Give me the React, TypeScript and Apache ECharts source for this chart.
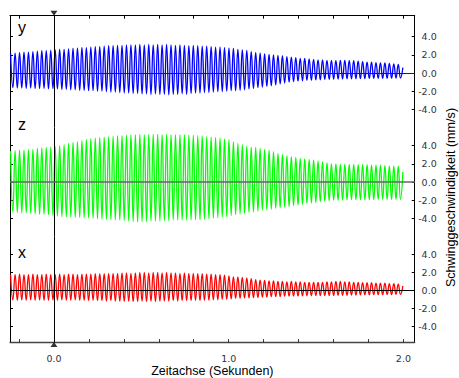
import React, { useEffect, useRef } from "react";
import * as echarts from "echarts";

// time base of the recording (seconds)
const sampleStart = -0.248;
const cyclePeriod = 0.0255;
const endTime = 1.997;

const timeTicks = [-0.2, 0, 0.2, 0.4, 0.6, 0.8, 1.0, 1.2, 1.4, 1.6, 1.8, 2.0];
const timeLabels = [0, 1, 2];
const speedTicks = [-4, -2, 0, 2, 4];
const panelNames = ["y", "z", "x"];
const cursorTime = 0;

// per-cycle peak / trough values (mm/s)
const yPeaks = [
  2.15, 2.2, 2.25, 2.3, 2.3, 2.35, 2.4, 2.45, 2.45, 2.5,
  2.55, 2.6, 2.6, 2.65, 2.7, 2.75, 2.8, 2.8, 2.85, 2.9,
  2.9, 2.95, 3.0, 3.0, 3.05, 3.05, 3.1, 3.1, 3.1, 3.15,
  3.1, 3.15, 3.1, 3.15, 3.1, 3.15, 3.1, 3.05, 3.1, 3.05,
  3.0, 3.05, 3.0, 2.95, 2.95, 2.9, 2.85, 2.85, 2.8, 2.75,
  2.7, 2.6, 2.55, 2.5, 2.35, 2.25, 2.2, 2.1, 2.05, 2.0,
  1.95, 1.9, 1.8, 1.75, 1.7, 1.6, 1.6, 1.55, 1.5, 1.45,
  1.45, 1.4, 1.4, 1.35, 1.4, 1.4, 1.35, 1.35, 1.3, 1.25,
  1.2, 1.2, 1.15, 1.1, 1.1, 1.05, 1.0, 0.95,
];
const yTroughs = [
  -1.6, -1.65, -1.65, -1.7, -1.65, -1.7, -1.7, -1.7, -1.75, -1.7,
  -1.75, -1.8, -1.8, -1.85, -1.85, -1.9, -1.9, -1.95, -1.95, -2.0,
  -2.0, -2.05, -2.1, -2.1, -2.15, -2.2, -2.2, -2.25, -2.25, -2.3,
  -2.3, -2.35, -2.3, -2.35, -2.35, -2.4, -2.35, -2.35, -2.3, -2.35,
  -2.25, -2.2, -2.2, -2.15, -2.15, -2.1, -2.05, -2.05, -2.0, -1.95,
  -1.95, -1.9, -1.85, -1.75, -1.7, -1.6, -1.55, -1.45, -1.4, -1.3,
  -1.2, -1.1, -1.0, -0.95, -0.9, -0.85, -0.8, -0.8, -0.75, -0.75,
  -0.7, -0.7, -0.68, -0.66, -0.66, -0.65, -0.65, -0.64, -0.62, -0.62,
  -0.6, -0.6, -0.6, -0.58, -0.58, -0.57, -0.56, -0.55,
];
const zPeaks = [
  3.4, 3.45, 3.5, 3.5, 3.55, 3.6, 3.7, 3.75, 3.8, 3.85,
  3.9, 4.0, 4.1, 4.25, 4.35, 4.45, 4.55, 4.7, 4.8, 4.85,
  4.9, 4.95, 5.0, 5.05, 5.1, 5.1, 5.15, 5.2, 5.2, 5.25,
  5.2, 5.25, 5.25, 5.25, 5.2, 5.25, 5.2, 5.2, 5.2, 5.2,
  5.15, 5.15, 5.1, 5.1, 5.0, 4.95, 4.9, 4.85, 4.75, 4.65,
  4.45, 4.25, 4.1, 3.95, 3.85, 3.8, 3.7, 3.6, 3.5, 3.35,
  3.15, 3.05, 2.9, 2.8, 2.7, 2.6, 2.55, 2.45, 2.4, 2.3,
  2.2, 2.1, 2.0, 2.0, 1.95, 1.95, 1.95, 1.95, 1.9, 1.9,
  1.9, 1.85, 1.85, 1.85, 1.8, 1.75, 1.75, 1.75,
];
const zTroughs = [
  -3.3, -3.35, -3.4, -3.4, -3.45, -3.5, -3.55, -3.55, -3.6, -3.7,
  -3.75, -3.8, -3.85, -3.85, -3.9, -3.9, -3.95, -3.95, -4.0, -4.05,
  -4.1, -4.1, -4.15, -4.2, -4.2, -4.25, -4.3, -4.35, -4.4, -4.35,
  -4.35, -4.3, -4.3, -4.3, -4.25, -4.25, -4.2, -4.2, -4.2, -4.2,
  -4.2, -4.15, -4.15, -4.1, -4.05, -4.0, -3.95, -3.85, -3.8, -3.7,
  -3.6, -3.5, -3.45, -3.35, -3.3, -3.2, -3.1, -3.05, -3.0, -2.9,
  -2.85, -2.75, -2.7, -2.6, -2.55, -2.45, -2.35, -2.3, -2.25, -2.15,
  -2.1, -2.05, -2.0, -2.0, -2.0, -1.95, -1.95, -1.95, -1.95, -1.95,
  -1.95, -1.95, -1.9, -1.9, -1.9, -1.9, -1.9, -1.9,
];
const xPeaks = [
  1.75, 1.75, 1.8, 1.75, 1.75, 1.8, 1.75, 1.75, 1.8, 1.75,
  1.75, 1.8, 1.75, 1.8, 1.8, 1.75, 1.8, 1.8, 1.8, 1.85,
  1.85, 1.85, 1.9, 1.9, 1.9, 1.95, 1.95, 1.9, 1.95, 2.0,
  2.0, 1.95, 2.0, 2.0, 1.95, 2.0, 1.95, 1.95, 1.9, 1.95,
  1.9, 1.9, 1.85, 1.85, 1.8, 1.8, 1.75, 1.75, 1.7, 1.6,
  1.5, 1.5, 1.45, 1.4, 1.3, 1.2, 1.15, 1.1, 1.05, 1.05,
  1.0, 1.0, 0.95, 1.0, 0.95, 0.95, 0.9, 0.9, 0.9, 0.9,
  0.9, 0.95, 0.95, 1.0, 1.0, 0.95, 0.95, 0.9, 0.9, 0.85,
  0.85, 0.85, 0.8, 0.8, 0.8, 0.75, 0.75, 0.7,
];
const xTroughs = [
  -1.05, -1.1, -1.05, -1.1, -1.05, -1.1, -1.05, -1.1, -1.1, -1.05,
  -1.1, -1.05, -1.1, -1.1, -1.05, -1.1, -1.1, -1.15, -1.1, -1.15,
  -1.15, -1.2, -1.15, -1.2, -1.2, -1.25, -1.2, -1.25, -1.25, -1.2,
  -1.25, -1.2, -1.25, -1.2, -1.2, -1.2, -1.15, -1.2, -1.15, -1.15,
  -1.15, -1.1, -1.15, -1.1, -1.1, -1.05, -1.05, -1.0, -1.0, -0.95,
  -0.9, -0.9, -0.85, -0.85, -0.8, -0.8, -0.75, -0.75, -0.7, -0.7,
  -0.7, -0.65, -0.65, -0.62, -0.62, -0.6, -0.6, -0.6, -0.58, -0.58,
  -0.58, -0.56, -0.56, -0.55, -0.55, -0.55, -0.52, -0.52, -0.5, -0.5,
  -0.5, -0.48, -0.48, -0.47, -0.46, -0.46, -0.45, -0.45,
];
const endValues = [0.6, 1.1, 0.5];

const peakSets = [yPeaks, zPeaks, xPeaks];
const troughSets = [yTroughs, zTroughs, xTroughs];

function buildSignal(peaks: number[], troughs: number[], endValue: number) {
  const pts: number[][] = [];
  for (let i = 0; i < peaks.length; i++) {
    pts.push([sampleStart + i * cyclePeriod, peaks[i]]);
    pts.push([sampleStart + (i + 0.5) * cyclePeriod, troughs[i]]);
  }
  pts.push([endTime, endValue]);
  return pts;
}

export default function App() {
  const ref = useRef<HTMLDivElement>(null);

  useEffect(() => {
    if (!ref.current) return;
    const chart = echarts.init(ref.current, undefined, { renderer: "svg" });

    const xMin = -0.2516;
    const xMax = 2.0646;
    const left = 10;
    const right = 44.3;
    const grids = [
      { left, right, top: 15.7, height: 111.8 },
      { left, right, top: 127.5, height: 109 },
      { left, right, top: 236.5, height: 106.8 },
    ];
    const yRanges = [
      [-6, 6.31],
      [-6, 6],
      [-5.76, 6],
    ];
    const colors = ["#0000ff", "#00ff00", "#ff0000"];
    const zeroColors = ["#222", "#666", "#000"];
    const zeroWidths = [1, 1.5, 1];
    const tickFont = { fontSize: 9.5, fontFamily: "DejaVu Sans", color: "#333" };
    const titleFont = "Liberation Sans, Arial, sans-serif";

    const xAxis: any[] = [
      {
        type: "value", gridIndex: 0, position: "top", min: xMin, max: xMax,
        axisLine: { show: true, onZero: false, lineStyle: { color: "#000", width: 1 } },
        axisTick: { show: true, inside: true, length: 3, customValues: timeTicks, lineStyle: { color: "#000" } },
        axisLabel: { show: false },
        splitLine: { show: false },
      },
      {
        type: "value", gridIndex: 1, min: xMin, max: xMax, show: false,
        axisLine: { onZero: false }, splitLine: { show: false },
      },
      {
        type: "value", gridIndex: 2, position: "bottom", min: xMin, max: xMax,
        axisLine: { show: true, onZero: false, lineStyle: { color: "#444", width: 1.3 } },
        axisTick: { show: true, inside: true, length: 3, customValues: timeTicks, lineStyle: { color: "#333" } },
        axisLabel: {
          customValues: timeLabels,
          formatter: (v: number) => v.toFixed(1),
          margin: 11,
          ...tickFont,
        },
        splitLine: { show: false },
        name: "Zeitachse (Sekunden)",
        nameLocation: "middle",
        nameGap: 21,
        nameTextStyle: { fontSize: 12.5, fontFamily: titleFont, color: "#000" },
      },
    ];

    const yAxis: any[] = [];
    grids.forEach((_, g) => {
      yAxis.push({
        type: "value", gridIndex: g, position: "right", min: yRanges[g][0], max: yRanges[g][1],
        axisLine: { show: true, onZero: false, lineStyle: { color: "#000", width: 1 } },
        axisTick: { show: true, inside: true, length: 3, customValues: speedTicks, lineStyle: { color: "#000" } },
        axisLabel: {
          customValues: speedTicks,
          formatter: (v: number) => v.toFixed(1),
          align: "right",
          margin: 22,
          ...tickFont,
        },
        splitLine: { show: false },
      });
      yAxis.push({
        type: "value", gridIndex: g, position: "left", min: yRanges[g][0], max: yRanges[g][1],
        axisLine: { show: true, onZero: false, lineStyle: { color: "#000", width: 1 } },
        axisTick: { show: true, inside: true, length: 3, customValues: speedTicks, lineStyle: { color: "#000" } },
        axisLabel: { show: false },
        splitLine: { show: false },
      });
    });

    const series: any[] = panelNames.map((name, g) => ({
      name,
      type: "line",
      xAxisIndex: g,
      yAxisIndex: g * 2,
      data: buildSignal(peakSets[g], troughSets[g], endValues[g]),
      symbol: "none",
      showSymbol: false,
      smooth: 0.5,
      lineStyle: { color: colors[g], width: 1.3 },
      itemStyle: { color: colors[g] },
      z: 2,
      silent: true,
      markLine: {
        silent: true,
        symbol: ["none", "none"],
        label: { show: false },
        animation: false,
        data: [
          { xAxis: cursorTime, lineStyle: { color: "#000", width: 1, type: "solid" } },
          { yAxis: 0, lineStyle: { color: zeroColors[g], width: zeroWidths[g], type: "solid" } },
        ],
      },
    }));

    series.push({
      type: "scatter",
      xAxisIndex: 0,
      yAxisIndex: 0,
      data: [[cursorTime, yRanges[0][1]]],
      symbol: "path://M0,0 L10,0 L5,8 Z",
      symbolSize: [7, 5],
      symbolOffset: [0, -2.5],
      itemStyle: { color: "#000" },
      clip: false,
      silent: true,
      z: 5,
    });
    series.push({
      type: "scatter",
      xAxisIndex: 2,
      yAxisIndex: 4,
      data: [[cursorTime, yRanges[2][0]]],
      symbol: "path://M5,0 L10,8 L0,8 Z",
      symbolSize: [7, 5],
      symbolOffset: [0, 2.5],
      itemStyle: { color: "#000" },
      clip: false,
      silent: true,
      z: 5,
    });

    const letterY = [27.6, 124.6, 252];
    const graphic: any[] = panelNames.map((name, g) => ({
      type: "text",
      left: 18,
      top: letterY[g] - 8,
      style: {
        text: name,
        fontSize: 16,
        fontFamily: titleFont,
        fill: "#000",
      },
      silent: true,
    }));
    graphic.push({
      type: "text",
      x: 451,
      y: 197.5,
      rotation: Math.PI / 2,
      style: {
        text: "Schwinggeschwindigkeit (mm/s)",
        fontSize: 12.6,
        fontFamily: titleFont,
        fill: "#000",
        align: "center",
        verticalAlign: "middle",
      },
      silent: true,
    });

    chart.setOption({
      animation: false,
      backgroundColor: "#fff",
      grid: grids,
      xAxis,
      yAxis,
      series,
      graphic,
    });

    return () => chart.dispose();
  }, []);

  return (
    <div
      ref={ref}
      style={{ position: "fixed", left: 0, top: 0, width: 459, height: 378 }}
    />
  );
}
